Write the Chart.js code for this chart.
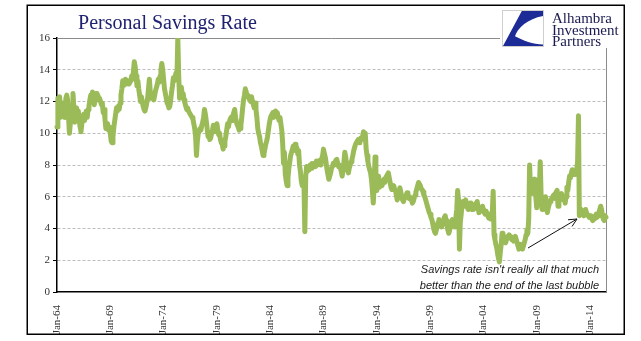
<!DOCTYPE html>
<html>
<head>
<meta charset="utf-8">
<title>Personal Savings Rate</title>
<script src="https://cdn.jsdelivr.net/npm/chart.js@4.4.1/dist/chart.umd.min.js"></script>
<style>
  html, body { margin: 0; padding: 0; background: #fff; }
  canvas { display: block; }
</style>
</head>
<body>
<canvas id="savingsChart" width="641" height="341"></canvas>
<script>
// Personal saving rate, monthly, Jan 1964 - Jul 2015 (% of disposable income)
const rate1960s = [
  10.4, 12.2, 11.2, 12.3, 11.0, 11.8, 11.1, 11.9, 11.3, 11.0, 12.2, 12.4,
  12.1, 11.0, 10.0, 10.6, 11.2, 11.8, 12.5, 11.6, 10.7, 11.3, 11.6, 11.0,
  11.4, 10.8, 10.4, 10.1, 10.6, 11.0, 11.2, 10.8, 11.1, 11.4, 11.0, 11.5,
  11.7, 12.1, 12.4, 12.0, 12.6, 12.2, 11.8, 12.3, 12.5, 12.1, 12.4, 12.2,
  12.2, 12.0, 11.8, 11.9, 11.3, 11.5, 10.9, 10.3, 10.5, 10.6, 10.2, 10.4,
  10.0, 9.5, 9.4, 9.8, 10.4, 10.8, 11.2, 11.6, 11.4, 11.7, 11.5, 11.9
];
const rate1970s = [
  12.4, 12.8, 13.3, 13.0, 13.2, 13.4, 13.1, 13.2, 13.3, 13.1, 13.2, 13.3,
  13.6, 13.4, 13.9, 14.5, 14.2, 13.6, 13.0, 13.3, 12.8, 12.4, 12.0, 12.3,
  12.0, 11.7, 11.5, 11.4, 11.6, 11.9, 12.2, 12.8, 13.4, 12.6, 12.2, 12.5,
  12.3, 12.1, 12.4, 12.7, 12.9, 13.1, 13.4, 13.2, 13.6, 14.0, 14.4, 14.0,
  13.4, 12.8, 12.5, 12.2, 11.9, 11.8, 11.6, 11.7, 12.1, 12.6, 13.0, 13.5,
  13.3, 13.6, 13.8, 13.5, 16.0, 13.6, 12.2, 12.6, 12.9, 12.4, 12.5, 12.1,
  11.9, 11.7, 11.5, 11.6, 11.4, 11.3, 11.2, 11.1, 11.0, 10.9, 10.6, 10.3,
  9.8, 8.6, 9.5, 10.0, 10.1, 10.3, 10.2, 10.5, 10.7, 11.0, 11.5, 11.2,
  10.8, 10.3, 9.8, 10.0, 9.6, 9.7, 10.0, 10.2, 10.5, 10.3, 10.1, 10.5,
  10.6, 10.2, 9.9, 10.0, 9.6, 9.4, 9.3, 9.0, 9.2, 9.5, 9.8, 10.2
];
const rate1980s = [
  10.6, 10.4, 10.7, 10.9, 11.0, 10.8, 11.1, 11.3, 11.5, 11.0, 10.7, 10.5,
  10.4, 10.2, 10.3, 10.5, 11.0, 11.6, 12.1, 12.4, 12.8, 12.6, 12.3, 12.4,
  12.2, 12.1, 12.0, 12.3, 12.0, 11.8, 11.6, 11.9, 11.5, 11.0, 10.3, 10.0,
  9.8, 9.4, 9.2, 8.9, 8.6, 8.7, 9.0, 9.3, 9.5, 9.8, 10.2, 10.6,
  10.9, 11.1, 11.2, 11.3, 11.0, 11.2, 11.4, 11.1, 11.3, 11.0, 10.8, 11.0,
  10.6, 10.2, 9.4, 8.1, 8.8, 7.4, 7.0, 6.7, 7.2, 7.8, 8.2, 8.6,
  8.8, 9.0, 9.2, 9.1, 9.3, 8.9, 9.1, 8.7, 8.9, 8.0, 7.6, 7.0,
  6.7, 7.2, 6.8, 3.8, 7.3, 7.9, 7.6, 7.8, 7.7, 8.0, 7.8, 8.1,
  7.9, 8.0, 8.1, 7.9, 8.25, 8.0, 8.2, 8.1, 8.3, 8.0, 8.4, 8.6,
  9.0, 8.7, 8.5, 8.1, 7.7, 7.4, 7.1, 7.3, 7.5, 7.8, 7.9, 8.1
];
const rate1990s = [
  8.0, 8.2, 8.3, 8.35, 8.1, 7.9, 8.0, 7.8, 7.6, 7.3, 7.7, 8.2,
  8.8, 8.5, 8.0, 7.7, 7.5, 7.8, 8.0, 8.2, 8.35, 8.6, 8.9, 9.1,
  9.3, 9.4, 9.5, 9.6, 9.4, 9.5, 9.7, 9.6, 9.8, 10.1, 9.7, 10.0,
  9.0, 8.6, 8.2, 7.9, 7.7, 7.5, 7.1, 6.4, 5.6, 6.6, 8.5, 7.4,
  6.4, 7.0, 7.3, 6.6, 6.8, 6.9, 6.7, 7.0, 7.1, 6.9, 7.2, 7.3,
  7.4, 7.5, 7.2, 6.9, 6.6, 6.46, 6.6, 6.7, 6.5, 6.4, 6.1, 5.8,
  6.0, 6.3, 6.56, 6.3, 6.0, 5.8, 5.7, 5.9, 6.0, 6.1, 6.25, 6.0,
  5.9, 6.0, 5.9, 5.8, 5.6, 5.7, 5.9, 6.1, 6.3, 6.5, 6.7, 6.9,
  6.8, 6.7, 6.5, 6.46, 6.3, 6.1, 6.0, 5.8, 5.6, 5.4, 5.2, 5.0,
  4.9, 4.7, 4.56, 4.3, 4.0, 3.8, 3.7, 3.9, 4.2, 4.4, 4.56, 4.3
];
const rate2000s = [
  4.2, 4.1, 4.3, 4.5, 4.7, 4.8, 4.5, 4.2, 3.9, 3.7, 3.9, 4.2,
  4.4, 4.56, 4.3, 4.1, 4.4, 4.7, 5.2, 6.4, 5.8, 2.7, 4.4, 4.9,
  5.5, 5.7, 5.4, 5.6, 5.8, 5.5, 5.3, 5.2, 5.4, 5.6, 5.3, 5.2,
  5.4, 5.2, 5.5, 5.3, 5.6, 5.7, 5.3, 5.0, 5.2, 5.3, 5.1, 5.4,
  5.2, 5.0, 4.9, 5.1, 5.1, 4.8, 4.66, 4.9, 4.6, 4.8, 5.0, 6.35,
  3.6, 3.3, 3.0, 2.8, 2.4, 2.1, 1.9, 2.5, 3.0, 3.7, 3.3, 3.5,
  3.3, 3.1, 3.3, 3.5, 3.4, 3.6, 3.4, 3.5, 3.3, 3.4, 3.2, 3.4,
  3.5, 3.3, 3.1, 2.9, 2.7, 2.9, 3.0, 2.8, 2.7, 2.9, 3.1, 3.3,
  3.6, 3.9, 3.7, 4.6, 8.0, 6.5, 6.2, 6.6, 6.8, 7.1, 6.4, 6.0,
  5.3, 6.1, 6.3, 6.6, 8.2, 6.0, 5.2, 5.5, 5.4, 5.7, 6.0, 5.6
];
const rate2010s = [
  5.0, 5.3, 5.5, 5.7, 5.8, 5.9, 6.0, 6.1, 5.9, 6.2, 6.3, 6.4,
  5.4, 5.7, 5.9, 6.1, 6.2, 6.0, 5.8, 5.9, 5.6, 6.0, 6.6, 6.4,
  6.9, 7.3, 7.2, 7.5, 7.7, 7.5, 7.4, 7.6, 7.5, 7.7, 8.2, 11.1,
  4.8, 5.0, 5.2, 5.1, 4.9, 4.8, 5.0, 5.2, 5.0, 4.9, 4.8, 4.7,
  4.8, 4.7, 4.6, 4.5, 4.7, 4.6, 4.8, 4.9, 4.7, 4.8, 5.0, 5.2,
  5.4, 5.2, 4.8, 4.6, 4.5, 4.8, 4.7
];

const firstYear = 1964;
const monthNames = ['Jan', 'Feb', 'Mar', 'Apr', 'May', 'Jun', 'Jul', 'Aug', 'Sep', 'Oct', 'Nov', 'Dec'];
const tickLabels = ['Jan-64', 'Jan-69', 'Jan-74', 'Jan-79', 'Jan-84', 'Jan-89', 'Jan-94', 'Jan-99', 'Jan-04', 'Jan-09', 'Jan-14'];
const noteLines = ["Savings rate isn't really all that much", 'better than the end of the last bubble'];
const logoLines = ['Alhambra', 'Investment', 'Partners'];

const savingsRate = [].concat(rate1960s, rate1970s, rate1980s, rate1990s, rate2000s, rate2010s);
const months = savingsRate.map((v, i) => {
  const yr = (firstYear + Math.floor(i / 12)) % 100;
  return monthNames[i % 12] + '-' + String(yr).padStart(2, '0');
});

const serif = '"Liberation Serif", "Times New Roman", serif';

const decorations = {
  id: 'decorations',
  beforeDraw(chart) {
    const ctx = chart.ctx;
    ctx.save();
    ctx.fillStyle = '#fff';
    ctx.fillRect(0, 0, chart.width, chart.height);
    ctx.restore();
  },
  beforeDatasetsDraw(chart) {
    const { ctx, chartArea: a } = chart;
    ctx.save();
    ctx.strokeStyle = '#8c8c8c';
    ctx.lineWidth = 1;
    ctx.beginPath();
    ctx.moveTo(a.left, Math.round(a.top) + 0.5);
    ctx.lineTo(Math.round(a.right) + 0.5, Math.round(a.top) + 0.5);
    ctx.lineTo(Math.round(a.right) + 0.5, a.bottom);
    ctx.stroke();
    ctx.restore();
  },
  afterDraw(chart) {
    const ctx = chart.ctx;
    ctx.save();

    // title
    ctx.fillStyle = '#1f2270';
    ctx.font = '20px ' + serif;
    ctx.textAlign = 'center';
    ctx.textBaseline = 'alphabetic';
    ctx.fillText('Personal Savings Rate', 167.5, 29);

    // logo block sits over the top right corner of the plot
    ctx.fillStyle = '#fff';
    ctx.fillRect(500, 7, 118, 41);
    const bx = 503, by = 11, bw = 40, bh = 35;
    ctx.strokeStyle = '#cfcfcf';
    ctx.lineWidth = 1;
    ctx.strokeRect(bx - 0.5, by - 0.5, bw + 1, bh + 1);
    ctx.fillStyle = '#1d2b96';
    ctx.beginPath();
    ctx.moveTo(bx + 0.47 * bw, by);
    ctx.lineTo(bx + bw, by);
    ctx.lineTo(bx + bw, by + 0.14 * bh);
    ctx.bezierCurveTo(bx + 0.62 * bw, by + 0.22 * bh, bx + 0.36 * bw, by + 0.48 * bh, bx + 0.3 * bw, by + 0.72 * bh);
    ctx.bezierCurveTo(bx + 0.5 * bw, by + 0.84 * bh, bx + 0.75 * bw, by + 0.95 * bh, bx + bw, by + 0.96 * bh);
    ctx.lineTo(bx + bw, by + bh);
    ctx.lineTo(bx, by + bh);
    ctx.closePath();
    ctx.fill();

    ctx.fillStyle = '#1a1a50';
    ctx.font = '15px ' + serif;
    ctx.textAlign = 'left';
    logoLines.forEach((t, i) => ctx.fillText(t, 552, 23 + i * 11.6));

    // note and arrow
    ctx.fillStyle = '#1a1a1a';
    ctx.font = 'italic 11px "Liberation Sans", Arial, sans-serif';
    ctx.textAlign = 'right';
    noteLines.forEach((t, i) => ctx.fillText(t, 599, 273 + i * 16));

    const x0 = 528, y0 = 248, x1 = 577, y1 = 219;
    const ang = Math.atan2(y1 - y0, x1 - x0);
    ctx.strokeStyle = '#111';
    ctx.lineWidth = 1;
    ctx.beginPath();
    ctx.moveTo(x0, y0);
    ctx.lineTo(x1, y1);
    ctx.moveTo(x1 - 9 * Math.cos(ang - 0.45), y1 - 9 * Math.sin(ang - 0.45));
    ctx.lineTo(x1, y1);
    ctx.lineTo(x1 - 9 * Math.cos(ang + 0.45), y1 - 9 * Math.sin(ang + 0.45));
    ctx.stroke();

    // outer frame
    ctx.strokeStyle = '#000';
    ctx.lineWidth = 1.5;
    ctx.strokeRect(27.25, 5.25, 597, 329);
    ctx.restore();
  }
};

new Chart(document.getElementById('savingsChart'), {
  type: 'line',
  data: {
    labels: months,
    datasets: [{
      data: savingsRate,
      borderColor: '#9bbb59',
      borderWidth: 5,
      borderJoinStyle: 'round',
      borderCapStyle: 'round',
      pointRadius: 0,
      tension: 0,
      fill: false,
      clip: { left: 3, top: 0, right: 3, bottom: 3 }
    }]
  },
  options: {
    responsive: false,
    animation: false,
    events: [],
    layout: { padding: { left: 0, right: 35, top: 38, bottom: 0 } },
    plugins: {
      legend: { display: false },
      title: { display: false },
      tooltip: { enabled: false }
    },
    scales: {
      x: {
        type: 'category',
        offset: false,
        grid: { display: false },
        border: { display: true, color: '#000', width: 1.5 },
        ticks: {
          autoSkip: false,
          minRotation: 90,
          maxRotation: 90,
          padding: 5,
          color: '#333',
          font: { family: serif, size: 11 },
          callback: function (value) {
            const lbl = this.getLabelForValue(value);
            return tickLabels.includes(lbl) ? lbl : null;
          }
        },
        afterFit: (scale) => { scale.height = 49; }
      },
      y: {
        min: 0,
        max: 16,
        ticks: {
          stepSize: 2,
          padding: 3,
          color: '#333',
          font: { family: serif, size: 11 }
        },
        grid: {
          color: (c) => (c.tick && (c.tick.value === 0 || c.tick.value === 16)) ? 'rgba(0,0,0,0)' : '#bdbdbd',
          lineWidth: 1,
          drawTicks: true,
          tickLength: 4,
          tickColor: '#000',
          tickWidth: 1,
          tickBorderDash: []
        },
        border: { display: true, color: '#000', width: 1.5, dash: [3, 2] },
        afterFit: (scale) => { scale.width = 57; }
      }
    }
  },
  plugins: [decorations]
});
</script>
</body>
</html>
